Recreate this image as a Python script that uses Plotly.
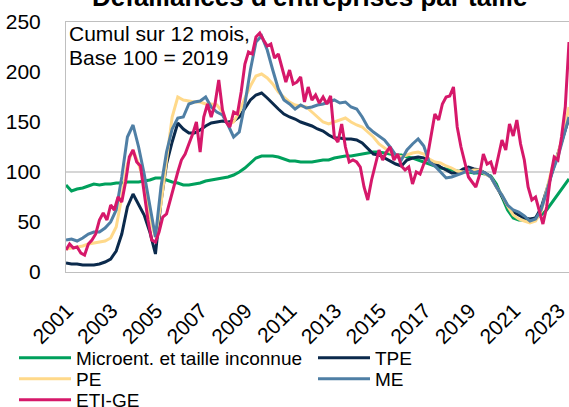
import pandas as pd
import plotly.graph_objects as go

# Quarterly dates (Jan 2001 -> Jul 2023)
q_dates = pd.date_range("2001-01-01", periods=91, freq="3MS")
# Bi-monthly dates for the more volatile ETI-GE series
b_dates = pd.date_range("2001-01-01", periods=136, freq="2MS")

micro = [87, 81, 83, 84, 86, 88, 87, 88, 88, 89, 89, 90, 90, 90, 91, 92,
         94, 94, 92, 90, 89, 87, 87, 88, 89, 91, 92, 93, 94, 95, 97, 100,
         104, 109, 114, 116, 116, 116, 115, 113, 111, 111, 110, 110,
         110, 111, 112, 112, 114, 115, 116, 116, 117, 118, 119, 120,
         120, 119, 118, 117, 117, 115, 114, 112, 110, 108, 106, 104,
         103, 102, 101, 100, 100, 99, 99, 98, 96, 88, 75, 62,
         54, 52, 52, 52, 54, 57, 62, 70, 78, 86, 93]

tpe = [9, 8, 8, 7, 7, 7, 8, 10, 13, 21, 38, 65, 78, 68, 57, 40,
       18, 70, 108, 130, 149, 143, 139, 139, 142, 146, 149, 150, 151, 150, 151, 155,
       163, 172, 177, 179, 174, 168, 163, 158, 155, 153, 150, 148,
       146, 143, 141, 137, 134, 134, 133, 133, 132, 129, 124, 118,
       117, 114, 111, 108, 106, 112, 114, 115, 114, 112, 109, 105,
       102, 99, 99, 103, 105, 103, 102, 99, 95, 85, 75, 66,
       60, 57, 54, 53, 54, 64, 82, 102, 118, 138, 154]

pe = [23, 24, 25, 26, 28, 29, 30, 31, 34, 45, 75, 108, 122, 108, 90, 55,
      35, 68, 112, 155, 175, 172, 171, 170, 170, 168, 168, 167, 160, 147, 150, 160,
      174, 186, 196, 198, 194, 188, 180, 175, 170, 167, 166, 165,
      160, 155, 150, 148, 150, 152, 154, 150, 147, 145, 140, 135,
      128, 124, 120, 117, 115, 117, 119, 120, 118, 113, 110, 109,
      106, 104, 101, 100, 101, 102, 102, 98, 95, 85, 77, 66,
      57, 53, 51, 49, 51, 60, 82, 105, 118, 138, 165]

me = [32, 33, 31, 34, 38, 40, 40, 44, 50, 62, 95, 135, 147, 125, 98, 66,
      35, 85, 120, 143, 154, 155, 168, 170, 171, 175, 165, 160, 157, 147, 135, 140,
      168, 202, 230, 236, 222, 202, 183, 172, 168, 163, 167, 164,
      165, 167, 168, 170, 172, 169, 170, 165, 163, 155, 145, 140,
      136, 132, 125, 117, 112, 122, 128, 133, 126, 110, 106, 100,
      94, 95, 97, 99, 103, 99, 101, 99, 95, 85, 77, 67,
      62, 60, 56, 51, 53, 62, 80, 100, 115, 135, 155]

eti = [22, 28, 24, 25, 19, 17, 28, 32, 38, 52, 59, 52,
       67, 62, 75, 70, 90, 115, 122, 110, 106, 80, 52, 32,
       30, 40, 55, 58, 72, 88, 100, 112, 118, 128, 138, 150,
       120, 155, 168, 155, 168, 192, 162, 150, 145, 160, 158, 180,
       208, 220, 218, 235, 239, 232, 226, 228, 214, 218, 205, 190,
       202, 188, 190, 195, 170, 185, 172, 177, 169, 175, 168, 176,
       135, 130, 148, 125, 110, 112, 110, 105, 85, 72, 92, 108,
       122, 112, 120, 125, 112, 118, 106, 102, 105, 88, 100, 98,
       108, 115, 136, 158, 152, 168, 175, 176, 185, 145, 125, 110,
       95, 90, 85, 97, 118, 108, 110, 98, 115, 132, 122, 148,
       136, 152, 128, 112, 85, 72, 75, 62, 48, 65, 95, 115,
       112, 135, 165, 230]

year_ticks = [str(y) for y in range(2001, 2024, 2)]
tick_dates = [f"{y}-01-01" for y in range(2001, 2024, 2)]

FONT = "Liberation Sans, Arial, sans-serif"
W = 3

series = [
    ("Microent. et taille inconnue", q_dates, micro, "#00A05C", "legend"),
    ("TPE", q_dates, tpe, "#0B2A4C", "legend2"),
    ("PE", q_dates, pe, "#FFD98A", "legend3"),
    ("ME", q_dates, me, "#4F7FA5", "legend4"),
    ("ETI-GE", b_dates, eti, "#D6186A", "legend5"),
]

fig = go.Figure()
for name, xs, ys, col, leg in series:
    fig.add_trace(go.Scatter(x=xs, y=ys, mode="lines", name=name, showlegend=True,
                             line=dict(color=col, width=W), legend=leg))

def leg(xpx, ypx):
    return dict(x=xpx / 569, y=1 - ypx / 407, orientation="h", xref="container",
                yref="container", xanchor="left", yanchor="middle", visible=True,
                font=dict(family=FONT, size=19, color="#000"), itemwidth=52,
                bgcolor="rgba(0,0,0,0)", borderwidth=0)

fig.update_layout(
    width=569, height=407,
    showlegend=True,
    margin=dict(l=66, r=0, t=22, b=135, autoexpand=False),
    paper_bgcolor="white", plot_bgcolor="white",
    font=dict(family=FONT, size=19, color="#000"),
    legend=leg(14, 358), legend2=leg(313, 358),
    legend3=leg(14, 379), legend4=leg(313, 379),
    legend5=leg(14, 400),
    xaxis=dict(range=["2001-01-01", "2023-07-01"], tickvals=tick_dates, ticktext=year_ticks,
               tickangle=-45, showgrid=False, zeroline=False, showline=True, mirror=True,
               linecolor="#BFBFBF", linewidth=1, ticks="", tickfont=dict(size=21),
               ticklabelstandoff=17, ticklabelshift=1, ticklabeloverflow="allow",
               automargin=False),
    yaxis=dict(range=[0, 250], tickvals=[0, 50, 100, 150, 200, 250], showgrid=False,
               zeroline=False, showline=True, mirror=True, linecolor="#BFBFBF", linewidth=1,
               ticks="", tickfont=dict(size=21), ticklabelstandoff=20, automargin=False),
    shapes=[dict(type="line", xref="paper", x0=0, x1=1, yref="y", y0=100, y1=100,
                 line=dict(color="#C8C8C8", width=1.5), layer="below")],
    annotations=[
        dict(text="<b>Défaillances d'entreprises par taille</b>", xref="paper", yref="paper",
             x=0.485, y=1.031, xanchor="center", yanchor="bottom", showarrow=False,
             font=dict(family=FONT, size=26, color="#000")),
        dict(text="Cumul sur 12 mois,", xref="paper", yref="paper",
             x=0, y=1, xanchor="left", yanchor="top", xshift=1, yshift=2, align="left",
             showarrow=False, font=dict(family=FONT, size=21, color="#000")),
        dict(text="Base 100 = 2019", xref="paper", yref="paper",
             x=0, y=1, xanchor="left", yanchor="top", xshift=1, yshift=-22, align="left",
             showarrow=False, font=dict(family=FONT, size=21, color="#000")),
    ],
)

fig.write_html("out.html", config={"displayModeBar": False},
               post_script="document.body.style.margin='0';")
